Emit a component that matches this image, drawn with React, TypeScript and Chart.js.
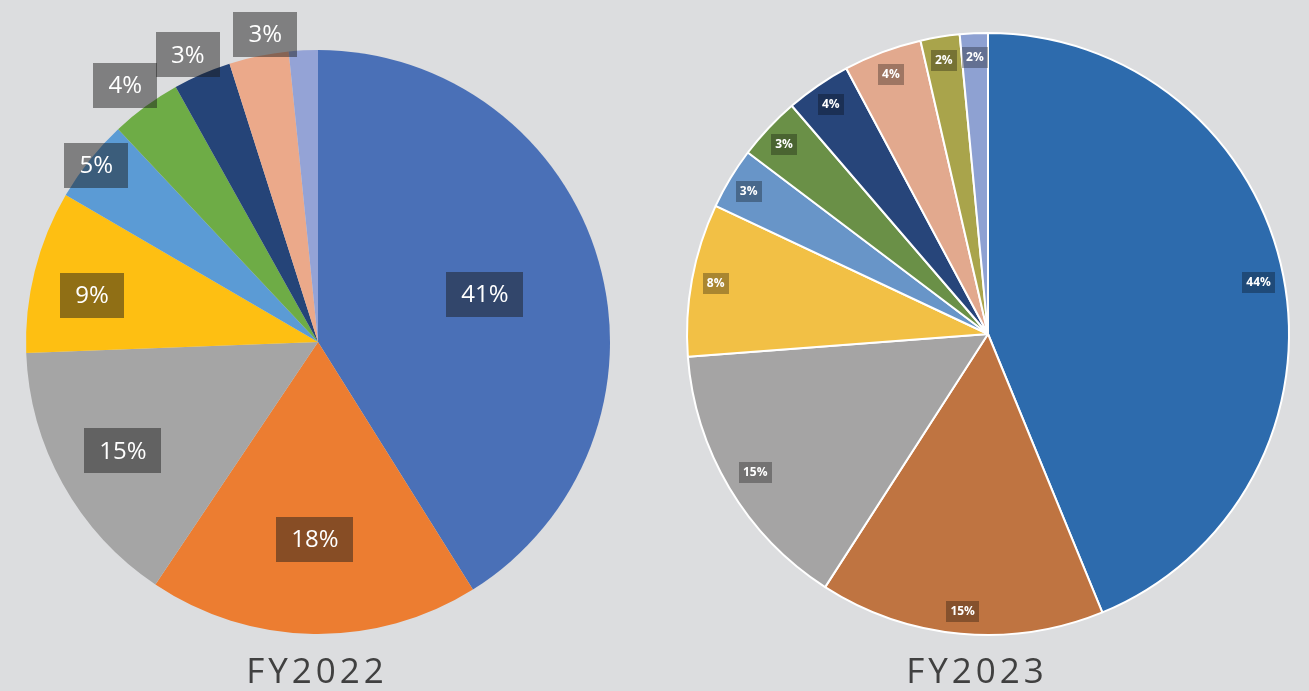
import React, { useEffect, useRef } from "react";
import { Chart, registerables } from "chart.js";

Chart.register(...registerables);

// ---- Data ----
const categories2022 = ["Segment 1", "Segment 2", "Segment 3", "Segment 4", "Segment 5", "Segment 6", "Segment 7", "Segment 8", "Segment 9"];
const values2022 = [41.1, 18.3, 15.0, 9.0, 4.6, 3.9, 3.2, 3.3, 1.6];

const categories2023 = ["Segment 1", "Segment 2", "Segment 3", "Segment 4", "Segment 5", "Segment 6", "Segment 7", "Segment 8", "Segment 9", "Segment 10"];
const values2023 = [43.8, 15.3, 14.7, 8.2, 3.3, 3.4, 3.5, 4.2, 2.1, 1.5];

const title2022 = "FY2022";
const title2023 = "FY2023";

// ---- Styles ----
const colors2022 = ["#4A70B7", "#EC7D31", "#A5A5A5", "#FEBF12", "#5B9BD5", "#6EAC46", "#254478", "#EBA98A", "#94A3D6"];
const colors2023 = ["#2D6BAD", "#BF7441", "#A5A4A4", "#F2C045", "#6895C8", "#6A9047", "#27457A", "#E2A98E", "#A9A44B", "#8EA1D2"];
const labelRadius2022 = [0.595, 0.675, 0.765, 0.79, 0.97, 1.1, 1.08, 1.07, 0];
const labelShift2022 = [0, 0, 0, -2.4, 0, -0.7, -1, 2, 0];
const labelRadius2023 = [0.915, 0.925, 0.9, 0.92, 0.925, 0.925, 0.925, 0.92, 0.92, 0.92];
const labelShift2023 = [0.4, 0, 0, 0, -0.4, -0.3, 0, 0, 0, 0];
const BG = "#DCDDDF";

type LabelCfg = {
  radius: number[];
  shift: number[];
  hide: number[];
  font: string;
  padX: number;
  boxH: number;
  boxColor: string;
  textColor: string;
  textDy: number;
};

function makeLabelPlugin(cfg: LabelCfg) {
  return {
    id: "boxLabels",
    afterDatasetsDraw(chart: any) {
      const ctx = chart.ctx as CanvasRenderingContext2D;
      const meta = chart.getDatasetMeta(0);
      const data = chart.data.datasets[0].data as number[];
      const total = data.reduce((a, b) => a + b, 0);
      ctx.save();
      ctx.font = cfg.font;
      ctx.textAlign = "center";
      ctx.textBaseline = "middle";
      meta.data.forEach((el: any, i: number) => {
        if (cfg.hide.includes(i)) return;
        const p = el.getProps(["x", "y", "startAngle", "endAngle", "outerRadius"], true);
        const mid = (p.startAngle + p.endAngle) / 2 + ((cfg.shift[i] || 0) * Math.PI) / 180;
        const r = p.outerRadius * cfg.radius[i];
        const cx = p.x + Math.cos(mid) * r;
        const cy = p.y + Math.sin(mid) * r;
        const text = Math.round((data[i] / total) * 100 + 1e-9) + "%";
        const w = Math.round(ctx.measureText(text).width + cfg.padX * 2);
        const h = cfg.boxH;
        ctx.fillStyle = cfg.boxColor;
        ctx.fillRect(Math.round(cx - w / 2), Math.round(cy - h / 2), w, h);
        ctx.fillStyle = cfg.textColor;
        ctx.fillText(text, cx, cy + cfg.textDy);
      });
      ctx.restore();
    },
  };
}

function PieCanvas(props: {
  labels: string[];
  values: number[];
  colors: string[];
  border: number;
  padding: { left: number; right: number; top: number; bottom: number };
  labelCfg: LabelCfg;
  width: number;
  height: number;
  left: number;
}) {
  const ref = useRef<HTMLCanvasElement | null>(null);
  useEffect(() => {
    if (!ref.current) return;
    const chart = new Chart(ref.current, {
      type: "pie",
      data: {
        labels: props.labels,
        datasets: [
          {
            data: props.values,
            backgroundColor: props.colors,
            borderColor: "#FFFFFF",
            borderWidth: props.border,
            hoverBorderWidth: props.border,
            hoverOffset: 0,
          },
        ],
      },
      options: {
        responsive: false,
        animation: false,
        events: [],
        layout: { padding: props.padding },
        plugins: {
          legend: { display: false },
          tooltip: { enabled: false },
        },
      },
      plugins: [makeLabelPlugin(props.labelCfg)],
    } as any);
    return () => chart.destroy();
  }, []);
  return (
    <canvas
      ref={ref}
      width={props.width}
      height={props.height}
      style={{ position: "absolute", left: props.left, top: 0, width: props.width, height: props.height }}
    />
  );
}

export default function App() {
  useEffect(() => {
    document.body.style.margin = "0";
    document.body.style.background = BG;
  }, []);

  const titleStyle: React.CSSProperties = {
    position: "absolute",
    top: 652,
    width: 400,
    textAlign: "center",
    fontFamily: "'Open Sans', sans-serif",
    fontSize: 35,
    lineHeight: "35px",
    letterSpacing: "4px",
    color: "#404040",
    whiteSpace: "nowrap",
  };

  return (
    <div style={{ position: "relative", width: 1309, height: 691, background: BG, overflow: "hidden" }}>
      <PieCanvas
        labels={categories2022}
        values={values2022}
        colors={colors2022}
        border={0}
        padding={{ left: 26, right: 44, top: 50, bottom: 57 }}
        width={654}
        height={691}
        left={0}
        labelCfg={{
          radius: labelRadius2022,
          shift: labelShift2022,
          hide: [8],
          font: "24px 'Open Sans', sans-serif",
          padX: 15,
          boxH: 45,
          boxColor: "rgba(25,25,25,0.48)",
          textColor: "#FFFFFF",
          textDy: 1,
        }}
      />
      <PieCanvas
        labels={categories2023}
        values={values2023}
        colors={colors2023}
        border={2}
        padding={{ left: 32, right: 19, top: 32, bottom: 55 }}
        width={655}
        height={691}
        left={654}
        labelCfg={{
          radius: labelRadius2023,
          shift: labelShift2023,
          hide: [],
          font: "bold 12px 'Open Sans', sans-serif",
          padX: 4,
          boxH: 21,
          boxColor: "rgba(0,0,0,0.3)",
          textColor: "#FFFFFF",
          textDy: 0,
        }}
      />
      <div style={{ ...titleStyle, left: 317 - 200 }}>{title2022}</div>
      <div style={{ ...titleStyle, left: 977 - 200 }}>{title2023}</div>
    </div>
  );
}
